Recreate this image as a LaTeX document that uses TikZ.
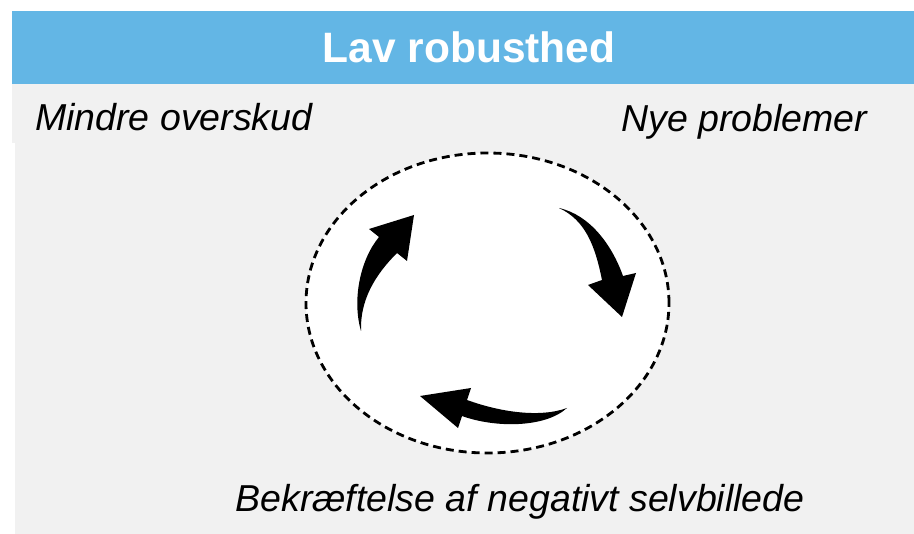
\documentclass[tikz,border=0pt]{standalone}
\usepackage{fontspec}
\usetikzlibrary{shapes.geometric}
\setmainfont{Liberation Sans}
\definecolor{hdrblue}{RGB}{99,182,229}
\definecolor{bggray}{RGB}{241,241,241}
\begin{document}
\begin{tikzpicture}[x=1pt,y=-1pt,
  lbl/.style={inner sep=0pt,font=\fontsize{37.5}{41}\selectfont\itshape,text=black},
  blockarrow/.style={fill=black,draw=none},
  cycle ellipse/.style={ellipse,draw=black,fill=white,line width=2.8pt,dash pattern=on 8pt off 5pt,
    inner sep=0pt,minimum width=363pt,minimum height=300pt}]
\useasboundingbox (0,0) rectangle (914,534);
% backgrounds
\fill[bggray] (15,84) rectangle (914,534);
\fill[bggray] (12,83) rectangle (494,143);
\fill[hdrblue] (12,11) rectangle (914,84);
\node[anchor=base,inner sep=0pt,text=white,font=\fontsize{42.5}{46}\selectfont\bfseries] (title) at (469,63) {Lav robusthed};
% labels
\node[lbl,anchor=base west] (mindre) at (35,131) {Mindre overskud};
\node[lbl,anchor=base west] (nye) at (621,132) {Nye problemer};
\node[lbl,anchor=base] (bekr) at (520,512) {Bekræftelse af negativt selvbillede};
% cycle ellipse
\node[cycle ellipse] (cyc) at (487.5,303) {};
% left arrow (upwards)
\fill[blockarrow] (361,331) .. controls (352,300) and (360,260) .. (379,237)
  -- (369,229) -- (414,215) -- (407,261) -- (397,253)
  .. controls (375,275) and (360,300) .. (361,331) -- cycle;
% right arrow (downwards)
\fill[blockarrow] (559,208) .. controls (590,215) and (612,245) .. (623,276)
  -- (636,273) -- (622,317) -- (588,285) -- (602,280)
  .. controls (595,245) and (585,220) .. (559,208) -- cycle;
% bottom arrow (leftwards)
\fill[blockarrow] (567,408) .. controls (540,418) and (500,412) .. (467,400)
  -- (471,388) -- (420,396) -- (458,428) -- (462,416)
  .. controls (495,428) and (545,428) .. (567,408) -- cycle;
\end{tikzpicture}
\end{document}
